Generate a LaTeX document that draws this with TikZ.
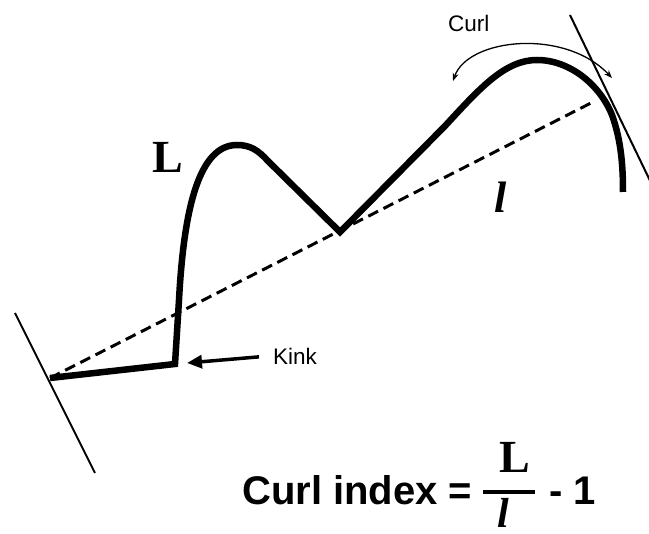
\documentclass[tikz,border=0pt]{standalone}
\usepackage{fontspec}
\setmainfont{Liberation Serif}
\setsansfont{Liberation Sans}
\usetikzlibrary{arrows.meta}

\begin{document}
\begin{tikzpicture}[x=1pt, y=-1pt,
	fibre/.style={line width=6.5pt},
	chord/.style={line width=3pt, dash pattern=on 11pt off 6pt},
	tangent/.style={line width=2pt},
	smalltext/.style={font=\sffamily\fontsize{22.5}{26}\selectfont, inner sep=0pt, anchor=base west},
	bigletter/.style={font=\bfseries\fontsize{46}{50}\selectfont, inner sep=0pt, anchor=base west},
	formula/.style={font=\sffamily\bfseries\fontsize{40}{46}\selectfont, inner sep=0pt, anchor=base west},
	curlarrow/.style={line width=1.3pt, {Stealth[length=8pt,width=6pt]}-{Stealth[length=8pt,width=6pt]}},
	kinkarrow/.style={line width=3.5pt, -{Triangle[length=15pt,width=13pt]}}]
	\useasboundingbox (0,0) rectangle (649,534);
	% points on the fibre
	\coordinate (start) at (50,378);
	\coordinate (kink) at (175,364);
	\coordinate (valley) at (340,232);
	\coordinate (tip) at (593,102);
	% fibre, end-to-end chord and tangents
	\draw[tangent] (15,313) -- (95,473);
	\draw[tangent] (570,15) -- (655,191);
	\draw[chord] (start) -- (tip);
	\draw[fibre] (start) -- (kink) -- (179,300)
		.. controls (184,205) and (200,145) .. (237,145)
		.. controls (250,145) and (258,150) .. (268,161) -- (valley) -- (445,126)
		.. controls (480,88) and (505,60) .. (537,60)
		.. controls (570,60) and (600,85) .. (612,115)
		.. controls (621,140) and (623,165) .. (623,192);
	% labels
	\node[bigletter] (Lbig) at (152,173) {L};
	\node[bigletter, font=\bfseries\itshape\fontsize{44}{48}\selectfont] (lsmall) at (494,213) {l};
	\node[smalltext] (curl) at (448,32) {Curl};
	\node[smalltext, inner xsep=14pt] (kinklabel) at (259,365) {Kink};
	% arrows
	\coordinate (curlA) at (453,81);
	\coordinate (curlB) at (612,78);
	\draw[curlarrow] (curlA) .. controls (468,38) and (565,28) .. (curlB);
	\coordinate (kinkend) at (187,363);
	\draw[kinkarrow] (kinklabel.west) -- (kinkend);
	% curl index
	\node[formula] (lhs) at (242,505) {Curl index =};
	\node[bigletter] (num) at (499,473) {L};
	\node[bigletter, font=\bfseries\itshape\fontsize{42}{46}\selectfont] (den) at (497,528) {l};
	\draw[line width=4pt] (483,492) -- (535,492);
	\node[formula] (rhs) at (549,505) {- 1};
\end{tikzpicture}
\end{document}
